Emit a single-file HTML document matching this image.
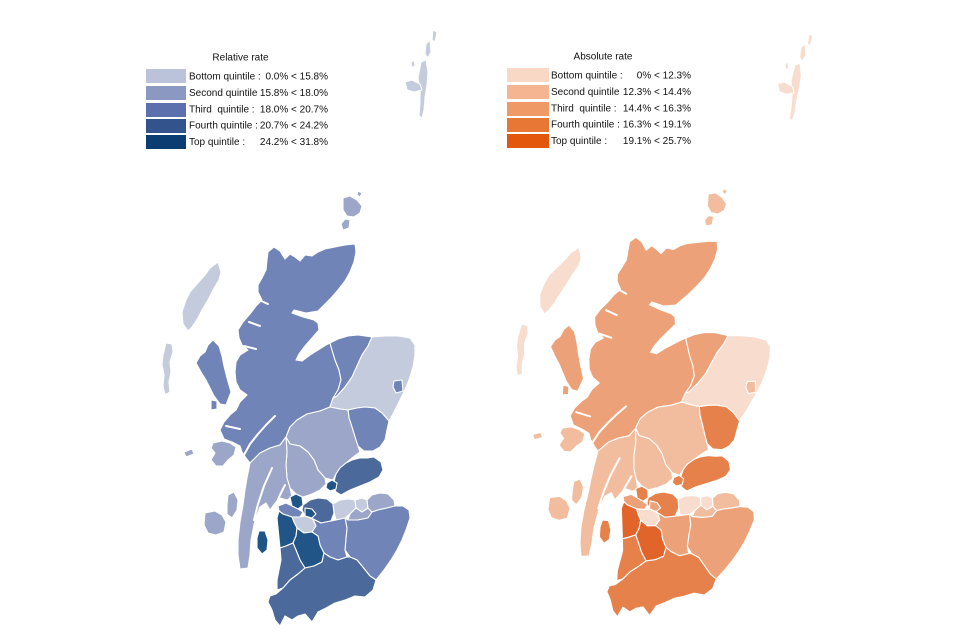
<!DOCTYPE html>
<html><head><meta charset="utf-8"><style>
html,body{margin:0;padding:0;background:#fff}
svg{display:block}
text{font-family:"Liberation Sans",Arial,sans-serif;font-size:10px;fill:#111;white-space:pre}
.m polygon{stroke:#fff;stroke-width:1.1;stroke-linejoin:round}
.loch{fill:none;stroke:#fff;stroke-width:2;stroke-linecap:round;stroke-linejoin:round}
#L .wi,#L .shet,#L .abs,#L .ere,#L .fal,#L .edi{fill:#c3cbdd}
#L .ork,#L .pk,#L .sti,#L .arg,#L .mid,#L .elo{fill:#9ba6c8}
#L .hl,#L .mor,#L .abc,#L .ang,#L .inv,#L .bor,#L .sla{fill:#7184b8}
#L .fif,#L .gla,#L .say,#L .dg{fill:#4b6a9b}
#L .cla,#L .wdb,#L .edb,#L .nay,#L .eay,#L .arr{fill:#215487}
#R .wi,#R .shet,#R .abs,#R .ere,#R .fal,#R .edi{fill:#f8dccd}
#R .ork,#R .pk,#R .sti,#R .arg,#R .mid,#R .elo,#R .abc{fill:#f2bd9e}
#R .hl,#R .mor,#R .inv,#R .bor,#R .sla,#R .edb{fill:#eca178}
#R .ang,#R .fif,#R .cla,#R .wdb,#R .gla,#R .say,#R .dg,#R .arr{fill:#e6814b}
#R .nay,#R .eay{fill:#e1652a}
</style></head><body>
<svg width="960" height="640" viewBox="0 0 960 640" xmlns="http://www.w3.org/2000/svg">
<rect width="960" height="640" fill="#fff"/>

<!-- Left legend -->
<text x="240.5" y="60.5" text-anchor="middle">Relative rate</text>
<rect x="146" y="69" width="40" height="14" fill="#bac3d9"/>
<rect x="146" y="86" width="40" height="14" fill="#8b99c2"/>
<rect x="146" y="103" width="40" height="14" fill="#5d70ae"/>
<rect x="146" y="119" width="40" height="14" fill="#33538c"/>
<rect x="146" y="135" width="40" height="14" fill="#0b3c72"/>
<text x="189" y="79.5">Bottom quintile :</text><text x="328" y="79.5" text-anchor="end">0.0% &lt; 15.8%</text>
<text x="189" y="96">Second quintile</text><text x="328" y="96" text-anchor="end">15.8% &lt; 18.0%</text>
<text x="189" y="112.5">Third  quintile :</text><text x="328" y="112.5" text-anchor="end">18.0% &lt; 20.7%</text>
<text x="189" y="128.5">Fourth quintile :</text><text x="328" y="128.5" text-anchor="end">20.7% &lt; 24.2%</text>
<text x="189" y="145">Top quintile :</text><text x="328" y="145" text-anchor="end">24.2% &lt; 31.8%</text>

<!-- Right legend -->
<text x="603" y="59.5" text-anchor="middle">Absolute rate</text>
<rect x="507" y="68" width="42" height="14" fill="#fad8c6"/>
<rect x="507" y="85" width="42" height="14" fill="#f5b591"/>
<rect x="507" y="102" width="42" height="14" fill="#ef9966"/>
<rect x="507" y="118" width="42" height="14" fill="#e87634"/>
<rect x="507" y="134" width="42" height="14" fill="#e2570c"/>
<text x="551" y="78.5">Bottom quintile :</text><text x="691" y="78.5" text-anchor="end">0% &lt; 12.3%</text>
<text x="551" y="95">Second quintile</text><text x="691" y="95" text-anchor="end">12.3% &lt; 14.4%</text>
<text x="551" y="111.5">Third  quintile :</text><text x="691" y="111.5" text-anchor="end">14.4% &lt; 16.3%</text>
<text x="551" y="127.5">Fourth quintile :</text><text x="691" y="127.5" text-anchor="end">16.3% &lt; 19.1%</text>
<text x="551" y="144">Top quintile :</text><text x="691" y="144" text-anchor="end">19.1% &lt; 25.7%</text>

<g id="L" class="m">
<polygon class="shet" points="421,62 426,60 428,72 427,85 425,98 424,110 422,118 419,116 420,102 420,90 418,78"/>
<polygon class="shet" points="405,82 412,80 420,84 422,90 414,92 407,90"/>
<polygon class="shet" points="426,44 430,40 431,52 428,58 425,54"/>
<polygon class="shet" points="433,30 437,32 435,42 432,40"/>
<polygon class="shet" points="411,62 414,60 415,66 412,68"/>
<polygon class="ork" points="343,198 350,196 357,200 362,206 360,213 354,217 347,216 343,210"/>
<polygon class="ork" points="345,219 350,220 349,228 343,230 341,224"/>
<polygon class="ork" points="358,191 362,193 360,197 357,195"/>
<polygon class="wi" points="218,262 221,272 219,280 213,290 208,300 202,310 198,318 192,327 188,331 183,324 182,312 186,300 190,292 197,284 205,275 210,268"/>
<polygon class="wi" points="166,343 172,344 173,352 170,362 171,372 169,382 170,392 165,395 163,386 164,375 162,365 163,355"/>
<polygon class="hl" points="268,252 274,247 280,251 285,259 290,254 295,257 300,261 305,255 312,256 318,252 325,249 335,247 345,245 355,244 356,252 354,262 350,272 345,281 338,290 331,298 324,305 318,311 306,313 294,310 292,313 303,317 314,320 318,323 319,330 312,338 305,346 299,354 296,360 302,361 310,355 318,350 326,345 330,343 332,350 335,360 339,370 341,380 338,390 333,398 330,407 320,411 307,414 297,420 290,427 286,437 280,445 270,448 260,453 250,463 246,458 242,452 240,446 232,442 224,439 220,430 224,422 230,415 236,410 240,402 247,395 240,390 236,382 235,372 236,362 240,355 248,350 242,345 239,338 238,330 243,322 250,314 256,306 262,300 258,292 258,285 262,278 266,270 267,260"/>
<polygon class="hl" points="213,340 219,346 222,356 224,366 227,378 231,392 226,405 220,404 214,396 210,388 206,380 201,372 196,363 200,356 205,352 208,345"/>
<polygon class="hl" points="211,400 217,401 217,409 211,410"/>
<polygon class="mor" points="330,343 338,339 348,336 358,335 372,337 368,346 362,355 357,366 352,377 345,387 337,396 333,398 338,390 341,380 339,370 335,360 332,350"/>
<polygon class="abs" points="372,337 385,336 398,336 410,338 415,345 415,355 413,367 409,380 404,392 399,402 394,412 389,421 382,413 375,408 365,407 357,408 348,410 340,409 330,407 333,398 337,396 345,387 352,377 357,366 362,355 368,346"/>
<polygon class="abc" points="394,381 402,380 403,391 396,393 393,387"/>
<polygon class="ang" points="348,410 357,408 365,407 375,408 382,413 389,421 387,430 385,440 380,447 373,451 364,451 358,446 355,437 352,427 349,418"/>
<polygon class="pk" points="290,427 297,420 307,414 320,411 330,407 340,409 348,410 349,418 352,427 355,437 358,446 360,452 352,458 346,463 340,468 336,474 333,480 325,478 318,470 314,460 308,452 300,446 290,444 286,437"/>
<polygon class="sti" points="286,437 290,444 300,446 308,452 314,460 318,470 325,478 326,484 320,490 312,494 303,497 296,494 290,488 287,478 286,465 287,452"/>
<polygon class="arg" points="250,463 260,453 270,448 280,445 286,437 287,452 286,465 287,478 290,488 292,497 287,500 280,498 276,502 270,510 266,503 260,507 255,520 251,540 250,555 248,568 240,569 238,555 238,540 240,522 243,505 245,490 247,478"/>
<polygon class="arg" points="213,443 222,441 230,443 236,447 234,455 228,460 223,466 216,466 211,460 215,453 211,448"/>
<polygon class="arg" points="205,513 215,511 222,515 226,522 224,532 216,535 208,533 204,525"/>
<polygon class="arg" points="228,495 234,492 238,500 237,510 232,518 227,514 227,505"/>
<polygon class="arg" points="184,452 192,449 194,454 186,457"/>
<polygon class="fif" points="336,474 340,468 346,463 352,460 360,458 367,458 374,457 381,462 383,470 379,477 370,482 360,486 350,490 341,495 336,492 333,485"/>
<polygon class="cla" points="327,483 332,480 337,483 336,489 330,491 326,488"/>
<polygon class="wdb" points="290,497 296,494 302,497 303,505 298,509 292,506"/>
<polygon class="inv" points="278,506 286,503 292,506 298,509 303,512 300,517 292,517 283,514 279,511"/>
<polygon class="gla" points="303,505 310,500 318,498 327,499 333,504 334,513 331,521 321,523 313,519 305,516 302,510"/>
<polygon class="edb" points="305,508 312,509 316,514 312,518 305,516"/>
<polygon class="ere" points="292,517 300,517 305,516 313,519 316,526 312,532 304,533 297,528 294,522"/>
<polygon class="fal" points="333,504 340,500 348,499 355,500 356,508 350,514 345,518 336,520 334,512"/>
<polygon class="edi" points="355,500 362,498 367,500 368,508 362,512 356,508"/>
<polygon class="mid" points="350,514 356,508 362,512 368,508 372,512 368,518 358,520 348,520"/>
<polygon class="elo" points="367,500 372,495 380,493 388,494 394,500 395,506 387,508 378,510 372,512 368,508"/>
<polygon class="bor" points="345,518 348,520 358,520 368,518 372,512 378,510 387,508 395,506 403,506 409,510 410,518 406,530 402,540 397,550 391,560 384,570 376,580 370,576 362,566 357,560 350,557 345,550 346,538 347,528"/>
<polygon class="sla" points="313,519 321,523 331,521 336,520 345,518 347,528 346,538 345,550 347,557 338,560 330,557 324,553 320,545 318,536 312,532 316,526"/>
<polygon class="nay" points="279,511 283,514 292,517 294,522 297,528 296,536 293,543 286,546 280,548 279,538 278,528 277,518"/>
<polygon class="eay" points="297,528 304,533 312,532 318,536 320,545 324,553 322,562 314,566 305,568 300,560 296,550 293,543 296,536"/>
<polygon class="say" points="280,548 286,546 293,543 296,550 300,560 305,568 298,574 290,580 283,588 277,590 277,580 279,570 281,560"/>
<polygon class="dg" points="283,588 290,580 298,574 305,568 314,566 322,562 324,553 330,557 338,560 347,557 350,557 357,560 362,566 370,576 376,580 373,590 365,597 355,596 345,600 335,603 326,608 318,612 312,622 305,614 298,616 292,620 285,616 280,626 275,620 272,610 268,602 270,596 276,594"/>
<polygon class="arr" points="259,531 265,531 268,540 267,550 262,554 257,548 257,538"/>
<polyline class="loch" points="244,455 250,444 258,434 266,425 275,416"/>
<polyline class="loch" points="272,468 264,486 258,504 254,520"/>
<polyline class="loch" points="285,485 280,495 276,504"/>
<polyline class="loch" points="226,426 240,429"/>
<polyline class="loch" points="259,300 268,304"/>
<polyline class="loch" points="249,322 260,326"/>
<polyline class="loch" points="244,346 256,349"/>
</g>

<g id="R" class="m" transform="matrix(1,0.085,-0.065,1,378,-33)">
<polygon class="shet" points="421,62 426,60 428,72 427,85 425,98 424,110 422,118 419,116 420,102 420,90 418,78"/>
<polygon class="shet" points="405,82 412,80 420,84 422,90 414,92 407,90"/>
<polygon class="shet" points="426,44 430,40 431,52 428,58 425,54"/>
<polygon class="shet" points="433,30 437,32 435,42 432,40"/>
<polygon class="shet" points="411,62 414,60 415,66 412,68"/>
<polygon class="ork" points="343,198 350,196 357,200 362,206 360,213 354,217 347,216 343,210"/>
<polygon class="ork" points="345,219 350,220 349,228 343,230 341,224"/>
<polygon class="ork" points="358,191 362,193 360,197 357,195"/>
<polygon class="wi" points="218,262 221,272 219,280 213,290 208,300 202,310 198,318 192,327 188,331 183,324 182,312 186,300 190,292 197,284 205,275 210,268"/>
<polygon class="wi" points="166,343 172,344 173,352 170,362 171,372 169,382 170,392 165,395 163,386 164,375 162,365 163,355"/>
<polygon class="hl" points="268,252 274,247 280,251 285,259 290,254 295,257 300,261 305,255 312,256 318,252 325,249 335,247 345,245 355,244 356,252 354,262 350,272 345,281 338,290 331,298 324,305 318,311 306,313 294,310 292,313 303,317 314,320 318,323 319,330 312,338 305,346 299,354 296,360 302,361 310,355 318,350 326,345 330,343 332,350 335,360 339,370 341,380 338,390 333,398 330,407 320,411 307,414 297,420 290,427 286,437 280,445 270,448 260,453 250,463 246,458 242,452 240,446 232,442 224,439 220,430 224,422 230,415 236,410 240,402 247,395 240,390 236,382 235,372 236,362 240,355 248,350 242,345 239,338 238,330 243,322 250,314 256,306 262,300 258,292 258,285 262,278 266,270 267,260"/>
<polygon class="hl" points="213,340 219,346 222,356 224,366 227,378 231,392 226,405 220,404 214,396 210,388 206,380 201,372 196,363 200,356 205,352 208,345"/>
<polygon class="hl" points="211,400 217,401 217,409 211,410"/>
<polygon class="mor" points="330,343 338,339 348,336 358,335 372,337 368,346 362,355 357,366 352,377 345,387 337,396 333,398 338,390 341,380 339,370 335,360 332,350"/>
<polygon class="abs" points="372,337 385,336 398,336 410,338 415,345 415,355 413,367 409,380 404,392 399,402 394,412 389,421 382,413 375,408 365,407 357,408 348,410 340,409 330,407 333,398 337,396 345,387 352,377 357,366 362,355 368,346"/>
<polygon class="abc" points="394,381 402,380 403,391 396,393 393,387"/>
<polygon class="ang" points="348,410 357,408 365,407 375,408 382,413 389,421 387,430 385,440 380,447 373,451 364,451 358,446 355,437 352,427 349,418"/>
<polygon class="pk" points="290,427 297,420 307,414 320,411 330,407 340,409 348,410 349,418 352,427 355,437 358,446 360,452 352,458 346,463 340,468 336,474 333,480 325,478 318,470 314,460 308,452 300,446 290,444 286,437"/>
<polygon class="sti" points="286,437 290,444 300,446 308,452 314,460 318,470 325,478 326,484 320,490 312,494 303,497 296,494 290,488 287,478 286,465 287,452"/>
<polygon class="arg" points="250,463 260,453 270,448 280,445 286,437 287,452 286,465 287,478 290,488 292,497 287,500 280,498 276,502 270,510 266,503 260,507 255,520 251,540 250,555 248,568 240,569 238,555 238,540 240,522 243,505 245,490 247,478"/>
<polygon class="arg" points="213,443 222,441 230,443 236,447 234,455 228,460 223,466 216,466 211,460 215,453 211,448"/>
<polygon class="arg" points="205,513 215,511 222,515 226,522 224,532 216,535 208,533 204,525"/>
<polygon class="arg" points="228,495 234,492 238,500 237,510 232,518 227,514 227,505"/>
<polygon class="arg" points="184,452 192,449 194,454 186,457"/>
<polygon class="fif" points="336,474 340,468 346,463 352,460 360,458 367,458 374,457 381,462 383,470 379,477 370,482 360,486 350,490 341,495 336,492 333,485"/>
<polygon class="cla" points="327,483 332,480 337,483 336,489 330,491 326,488"/>
<polygon class="wdb" points="290,497 296,494 302,497 303,505 298,509 292,506"/>
<polygon class="inv" points="278,506 286,503 292,506 298,509 303,512 300,517 292,517 283,514 279,511"/>
<polygon class="gla" points="303,505 310,500 318,498 327,499 333,504 334,513 331,521 321,523 313,519 305,516 302,510"/>
<polygon class="edb" points="305,508 312,509 316,514 312,518 305,516"/>
<polygon class="ere" points="292,517 300,517 305,516 313,519 316,526 312,532 304,533 297,528 294,522"/>
<polygon class="fal" points="333,504 340,500 348,499 355,500 356,508 350,514 345,518 336,520 334,512"/>
<polygon class="edi" points="355,500 362,498 367,500 368,508 362,512 356,508"/>
<polygon class="mid" points="350,514 356,508 362,512 368,508 372,512 368,518 358,520 348,520"/>
<polygon class="elo" points="367,500 372,495 380,493 388,494 394,500 395,506 387,508 378,510 372,512 368,508"/>
<polygon class="bor" points="345,518 348,520 358,520 368,518 372,512 378,510 387,508 395,506 403,506 409,510 410,518 406,530 402,540 397,550 391,560 384,570 376,580 370,576 362,566 357,560 350,557 345,550 346,538 347,528"/>
<polygon class="sla" points="313,519 321,523 331,521 336,520 345,518 347,528 346,538 345,550 347,557 338,560 330,557 324,553 320,545 318,536 312,532 316,526"/>
<polygon class="nay" points="279,511 283,514 292,517 294,522 297,528 296,536 293,543 286,546 280,548 279,538 278,528 277,518"/>
<polygon class="eay" points="297,528 304,533 312,532 318,536 320,545 324,553 322,562 314,566 305,568 300,560 296,550 293,543 296,536"/>
<polygon class="say" points="280,548 286,546 293,543 296,550 300,560 305,568 298,574 290,580 283,588 277,590 277,580 279,570 281,560"/>
<polygon class="dg" points="283,588 290,580 298,574 305,568 314,566 322,562 324,553 330,557 338,560 347,557 350,557 357,560 362,566 370,576 376,580 373,590 365,597 355,596 345,600 335,603 326,608 318,612 312,622 305,614 298,616 292,620 285,616 280,626 275,620 272,610 268,602 270,596 276,594"/>
<polygon class="arr" points="259,531 265,531 268,540 267,550 262,554 257,548 257,538"/>
<polyline class="loch" points="244,455 250,444 258,434 266,425 275,416"/>
<polyline class="loch" points="272,468 264,486 258,504 254,520"/>
<polyline class="loch" points="285,485 280,495 276,504"/>
<polyline class="loch" points="226,426 240,429"/>
<polyline class="loch" points="259,300 268,304"/>
<polyline class="loch" points="249,322 260,326"/>
<polyline class="loch" points="244,346 256,349"/>
</g>
</svg>
</body></html>
